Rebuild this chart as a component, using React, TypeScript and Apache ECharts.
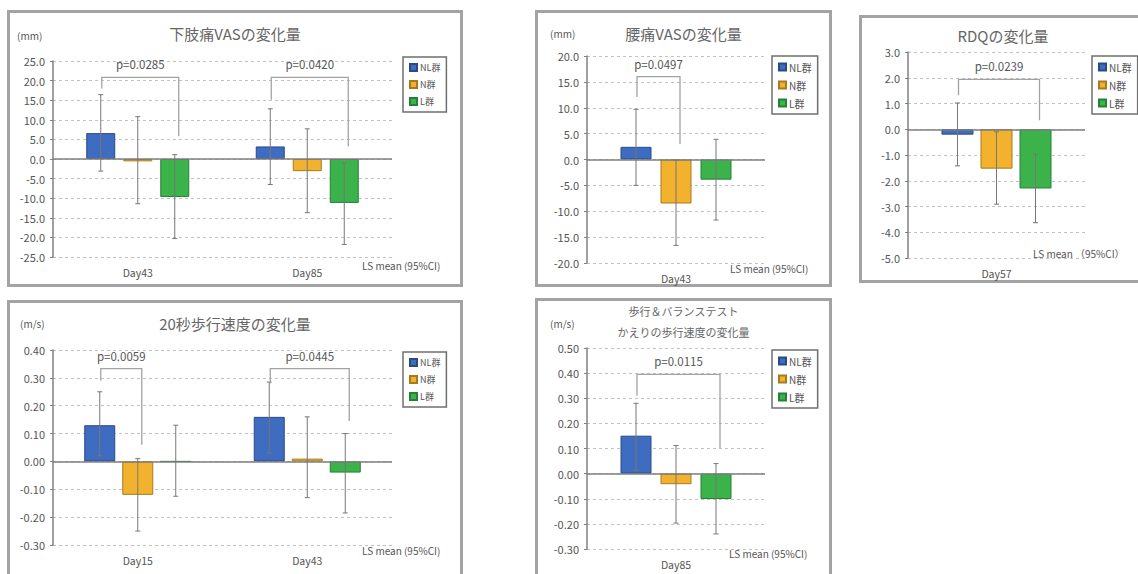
import React, { useEffect, useRef } from "react";
import * as echarts from "echarts";

// ---------- shared ----------
const groupNames = ["NL群", "N群", "L群"];
const groupColors = ["#3d6cc0", "#f3b22e", "#3bb24a"];
const groupBorders = ["#2a4a86", "#a87a1c", "#26803a"];
const FONT = '"Noto Sans CJK JP", "Noto Sans", sans-serif';

// ---------- Panel 1: 下肢痛VAS ----------
const legVasCategories = ["Day43", "Day85"];
const legVasNL = [6.6, 3.2];
const legVasN = [-0.6, -3.1];
const legVasL = [-9.7, -11.2];
const legVasNLci = [[-3.1, 16.4], [-6.5, 12.8]];
const legVasNci = [[-11.4, 10.8], [-13.7, 7.7]];
const legVasLci = [[-20.3, 1.1], [-21.8, -1.0]];
const legVasAxis = { min: -25, max: 25, interval: 5, decimals: 1 };
const legVasBrackets = [
  { cat: 0, a: 0, b: 2, top: 20.8, aEnd: 18.0, bEnd: 5.8, p: "p=0.0285" },
  { cat: 1, a: 0, b: 2, top: 20.8, aEnd: 15.1, bEnd: 3.2, p: "p=0.0420" },
];

// ---------- Panel 2: 腰痛VAS ----------
const backVasCategories = ["Day43"];
const backVasNL = [2.45];
const backVasN = [-8.5];
const backVasL = [-3.9];
const backVasNLci = [[-5.0, 9.7]];
const backVasNci = [[-16.6, -0.1]];
const backVasLci = [[-11.7, 3.9]];
const backVasAxis = { min: -20, max: 20, interval: 5, decimals: 1 };
const backVasBrackets = [
  { cat: 0, a: 0, b: 1, top: 16.0, aEnd: 12.1, bEnd: 3.0, p: "p=0.0497" },
];

// ---------- Panel 3: RDQ ----------
const rdqCategories = ["Day57"];
const rdqNL = [-0.21];
const rdqN = [-1.53];
const rdqL = [-2.3];
const rdqNLci = [[-1.42, 1.02]];
const rdqNci = [[-2.91, -0.1]];
const rdqLci = [[-3.63, -0.97]];
const rdqAxis = { min: -5, max: 3, interval: 1, decimals: 1 };
const rdqBrackets = [
  { cat: 0, a: 0, b: 2, top: 1.94, aEnd: 1.32, bEnd: 0.35, p: "p=0.0239" },
];

// ---------- Panel 4: 20秒歩行速度 ----------
const walk20Categories = ["Day15", "Day43"];
const walk20NL = [0.13, 0.16];
const walk20N = [-0.12, 0.01];
const walk20L = [0.0, -0.04];
const walk20NLci = [[0.02, 0.25], [0.03, 0.285]];
const walk20Nci = [[-0.25, 0.01], [-0.13, 0.16]];
const walk20Lci = [[-0.125, 0.13], [-0.185, 0.1]];
const walk20Axis = { min: -0.3, max: 0.4, interval: 0.1, decimals: 2 };
const walk20Brackets = [
  { cat: 0, a: 0, b: 1, top: 0.333, aEnd: 0.29, bEnd: 0.06, p: "p=0.0059" },
  { cat: 1, a: 0, b: 2, top: 0.333, aEnd: 0.28, bEnd: 0.145, p: "p=0.0445" },
];

// ---------- Panel 5: 歩行＆バランステスト ----------
const balanceCategories = ["Day85"];
const balanceNL = [0.151];
const balanceN = [-0.042];
const balanceL = [-0.101];
const balanceNLci = [[0.013, 0.28]];
const balanceNci = [[-0.197, 0.112]];
const balanceLci = [[-0.24, 0.04]];
const balanceAxis = { min: -0.3, max: 0.5, interval: 0.1, decimals: 2 };
const balanceBrackets = [
  { cat: 0, a: 0, b: 2, top: 0.395, aEnd: 0.31, bEnd: 0.1, p: "p=0.0115" },
];

type Bracket = { cat: number; a: number; b: number; top: number; aEnd: number; bEnd: number; p: string };

type PanelCfg = {
  left: number; top: number; width: number; height: number;
  title: string; titleY: number; titleSize: number; titleLineHeight?: number;
  unit: string; unitX: number; unitY: number;
  ls: string; lsX: number; lsY: number;
  grid: { left: number; right: number; top: number; bottom: number };
  categories: string[];
  values: number[][];
  ci: number[][][];
  axis: { min: number; max: number; interval: number; decimals: number };
  brackets: Bracket[];
  barWidth: number; gapPx: number;
  legendLeft: number; legendTop: number; legendFont: number;
};

const panels: PanelCfg[] = [
  {
    left: 7, top: 10, width: 456, height: 277,
    title: "下肢痛VASの変化量", titleY: 23, titleSize: 15,
    unit: "(mm)", unitX: 10, unitY: 25,
    ls: "LS mean (95%CI)", lsX: 355, lsY: 255,
    grid: { left: 46, right: 71, top: 51, bottom: 30 },
    categories: legVasCategories,
    values: [legVasNL, legVasN, legVasL],
    ci: [legVasNLci, legVasNci, legVasLci],
    axis: legVasAxis, brackets: legVasBrackets,
    barWidth: 29, gapPx: 8,
    legendLeft: 396, legendTop: 47, legendFont: 9,
  },
  {
    left: 535, top: 10, width: 297, height: 277,
    title: "腰痛VASの変化量", titleY: 23, titleSize: 15,
    unit: "(mm)", unitX: 15, unitY: 23,
    ls: "LS mean (95%CI)", lsX: 195, lsY: 258,
    grid: { left: 52, right: 67, top: 46, bottom: 24 },
    categories: backVasCategories,
    values: [backVasNL, backVasN, backVasL],
    ci: [backVasNLci, backVasNci, backVasLci],
    axis: backVasAxis, brackets: backVasBrackets,
    barWidth: 31, gapPx: 9,
    legendLeft: 237, legendTop: 46, legendFont: 10,
  },
  {
    left: 859, top: 15, width: 288, height: 268,
    title: "RDQの変化量", titleY: 20, titleSize: 15,
    unit: "", unitX: 0, unitY: 0,
    ls: "LS mean （95%CI）", lsX: 174, lsY: 238,
    grid: { left: 49, right: 62, top: 37, bottom: 25 },
    categories: rdqCategories,
    values: [rdqNL, rdqN, rdqL],
    ci: [rdqNLci, rdqNci, rdqLci],
    axis: rdqAxis, brackets: rdqBrackets,
    barWidth: 32, gapPx: 7,
    legendLeft: 233, legendTop: 41, legendFont: 10,
  },
  {
    left: 7, top: 300, width: 456, height: 285,
    title: "20秒歩行速度の変化量", titleY: 23, titleSize: 15,
    unit: "(m/s)", unitX: 13, unitY: 23,
    ls: "LS mean (95%CI)", lsX: 355, lsY: 250,
    grid: { left: 46, right: 71, top: 50, bottom: 40 },
    categories: walk20Categories,
    values: [walk20NL, walk20N, walk20L],
    ci: [walk20NLci, walk20Nci, walk20Lci],
    axis: walk20Axis, brackets: walk20Brackets,
    barWidth: 31, gapPx: 7,
    legendLeft: 396, legendTop: 52, legendFont: 9,
  },
  {
    left: 535, top: 298, width: 297, height: 287,
    title: "歩行＆バランステスト\nかえりの歩行速度の変化量", titleY: 23, titleSize: 11, titleLineHeight: 21,
    unit: "(m/s)", unitX: 15, unitY: 25,
    ls: "LS mean (95%CI)", lsX: 194, lsY: 255,
    grid: { left: 52, right: 67, top: 50, bottom: 36 },
    categories: balanceCategories,
    values: [balanceNL, balanceN, balanceL],
    ci: [balanceNLci, balanceNci, balanceLci],
    axis: balanceAxis, brackets: balanceBrackets,
    barWidth: 31, gapPx: 9,
    legendLeft: 237, legendTop: 52, legendFont: 10,
  },
];

function buildOption(cfg: PanelCfg): any {
  const step = cfg.barWidth + cfg.gapPx;
  const offsets = [-step, 0, step];
  const barGap = ((cfg.gapPx / cfg.barWidth) * 100).toFixed(1) + "%";
  const series: any[] = [];

  cfg.values.forEach((vals, i) => {
    const s: any = {
      type: "bar",
      name: groupNames[i],
      data: vals,
      barWidth: cfg.barWidth,
      barGap,
      itemStyle: { color: groupColors[i], borderColor: groupBorders[i], borderWidth: 1 },
      z: 2,
    };
    if (i === 0) {
      s.markLine = {
        silent: true,
        symbol: ["none", "none"],
        label: { show: false },
        lineStyle: { color: "#7f7f7f", width: 1.5, type: "solid" },
        data: [{ yAxis: 0 }],
        z: 3,
      };
    }
    series.push(s);
  });

  cfg.ci.forEach((cis, i) => {
    series.push({
      type: "custom",
      data: cis.map((c, k) => [k, c[0], c[1]]),
      encode: { x: 0, y: [1, 2] },
      clip: false,
      z: 5,
      silent: true,
      renderItem: (params: any, api: any) => {
        const x = api.value(0);
        const lo = api.coord([x, api.value(1)]);
        const hi = api.coord([x, api.value(2)]);
        const cx = lo[0] + offsets[i];
        const st = { stroke: "#777777", lineWidth: 1 };
        return {
          type: "group",
          children: [
            { type: "line", shape: { x1: cx, y1: lo[1], x2: cx, y2: hi[1] }, style: st },
            { type: "line", shape: { x1: cx - 2.5, y1: lo[1], x2: cx + 2.5, y2: lo[1] }, style: st },
            { type: "line", shape: { x1: cx - 2.5, y1: hi[1], x2: cx + 2.5, y2: hi[1] }, style: st },
          ],
        };
      },
    });
  });

  series.push({
    type: "custom",
    data: cfg.brackets.map((b) => [b.cat, b.top, b.aEnd, b.bEnd]),
    encode: { x: 0, y: [1, 2, 3] },
    clip: false,
    z: 6,
    silent: true,
    renderItem: (params: any, api: any) => {
      const b = cfg.brackets[params.dataIndex];
      const x = api.value(0);
      const top = api.coord([x, api.value(1)]);
      const aEnd = api.coord([x, api.value(2)]);
      const bEnd = api.coord([x, api.value(3)]);
      const ax = top[0] + offsets[b.a] + 1;
      const bx = top[0] + offsets[b.b] + 4;
      return {
        type: "group",
        children: [
          {
            type: "polyline",
            shape: { points: [[ax, aEnd[1]], [ax, top[1]], [bx, top[1]], [bx, bEnd[1]]] },
            style: { stroke: "#a3a3a3", lineWidth: 1.3, fill: "none" },
          },
          {
            type: "text",
            style: {
              text: b.p,
              x: (ax + bx) / 2,
              y: top[1] - 13,
              align: "center",
              verticalAlign: "middle",
              fontSize: 11.5,
              fontFamily: FONT,
              fill: "#555555",
            },
          },
        ],
      };
    },
  });

  const graphic: any[] = [
    {
      type: "rect",
      silent: true,
      z: -10,
      shape: { x: 1.5, y: 1.5, width: cfg.width - 3, height: cfg.height - 3 },
      style: { fill: "none", stroke: "#a3a3a3", lineWidth: 3 },
    },
    {
      type: "text",
      x: cfg.width / 2,
      y: cfg.titleY,
      style: {
        text: cfg.title,
        align: "center",
        verticalAlign: "middle",
        fontSize: cfg.titleSize,
        lineHeight: cfg.titleLineHeight || cfg.titleSize + 4,
        fontFamily: FONT,
        fill: "#666666",
      },
    },
    {
      type: "text",
      x: cfg.lsX,
      y: cfg.lsY,
      style: { text: cfg.ls, align: "left", verticalAlign: "middle", fontSize: 10, fontFamily: FONT, fill: "#555555" },
    },
  ];
  if (cfg.unit) {
    graphic.push({
      type: "text",
      x: cfg.unitX,
      y: cfg.unitY,
      style: { text: cfg.unit, align: "left", verticalAlign: "middle", fontSize: 10, fontFamily: FONT, fill: "#555555" },
    });
  }

  return {
    animation: false,
    backgroundColor: "#ffffff",
    textStyle: { fontFamily: FONT },
    grid: { ...cfg.grid, containLabel: false },
    legend: {
      data: groupNames,
      orient: "vertical",
      left: cfg.legendLeft,
      top: cfg.legendTop,
      icon: "rect",
      itemWidth: 7,
      itemHeight: 7,
      itemGap: 8,
      padding: [6, 6, 6, 6],
      borderColor: "#6f6f6f",
      borderWidth: 1.5,
      backgroundColor: "#ffffff",
      selectedMode: false,
      textStyle: { fontSize: cfg.legendFont, color: "#555555", fontFamily: FONT, padding: [0, 0, 0, -2] },
    },
    xAxis: {
      type: "category",
      data: cfg.categories,
      axisLine: { show: false, onZero: false },
      axisTick: { show: false },
      splitLine: { show: false },
      axisLabel: { fontSize: 10.5, color: "#555555", margin: 10, fontFamily: FONT },
    },
    yAxis: {
      type: "value",
      min: cfg.axis.min,
      max: cfg.axis.max,
      interval: cfg.axis.interval,
      axisLine: { show: true, lineStyle: { color: "#808080", width: 1.5 } },
      axisTick: { show: true, length: 3, lineStyle: { color: "#808080" } },
      axisLabel: {
        fontSize: 11,
        color: "#555555",
        margin: 8,
        fontFamily: FONT,
        formatter: (v: number) => (Math.abs(v) < 1e-9 ? 0 : v).toFixed(cfg.axis.decimals),
      },
      splitLine: { show: true, lineStyle: { color: "#c2c2c2", type: [3, 3], width: 1 } },
    },
    series,
    graphic,
  };
}

function Panel({ cfg }: { cfg: PanelCfg }) {
  const ref = useRef<HTMLDivElement>(null);
  useEffect(() => {
    if (!ref.current) return;
    const chart = echarts.init(ref.current, null, { renderer: "svg" });
    chart.setOption(buildOption(cfg));
    return () => chart.dispose();
  }, [cfg]);
  return (
    <div
      ref={ref}
      style={{ position: "absolute", left: cfg.left, top: cfg.top, width: cfg.width, height: cfg.height }}
    />
  );
}

export default function App() {
  return (
    <div
      style={{
        position: "fixed",
        left: 0,
        top: 0,
        width: 1138,
        height: 574,
        overflow: "hidden",
        background: "#ffffff",
      }}
    >
      {panels.map((p, i) => (
        <Panel key={i} cfg={p} />
      ))}
    </div>
  );
}
